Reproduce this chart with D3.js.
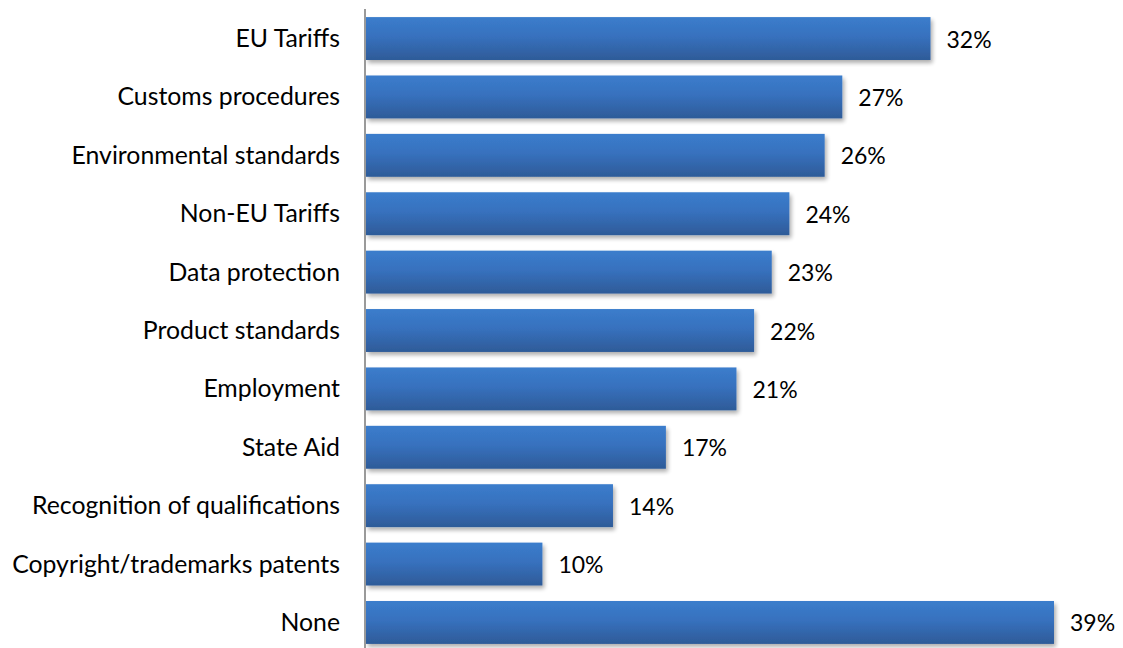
<!DOCTYPE html>
<html>
<head>
<meta charset="utf-8">
<script src="https://cdn.jsdelivr.net/npm/d3@7"></script>
<style>
  html, body { margin: 0; padding: 0; background: #fff; }
  svg { display: block; }
</style>
</head>
<body>
<svg id="chart" width="1123" height="648"></svg>
<script>
const categories = [
  "EU Tariffs",
  "Customs procedures",
  "Environmental standards",
  "Non-EU Tariffs",
  "Data protection",
  "Product standards",
  "Employment",
  "State Aid",
  "Recognition of qualifications",
  "Copyright/trademarks patents",
  "None"
];
const shares = [32, 27, 26, 24, 23, 22, 21, 17, 14, 10, 39];

const W = 1123, H = 648;
const svg = d3.select("#chart");
const fontFamily = "Lato, 'Open Sans', sans-serif";

const x = d3.scaleLinear().domain([0, 39]).range([366, 1054]);
const y = d3.scaleBand().domain(categories).range([9.5, 651.5]).paddingInner(0.265).paddingOuter(0.13);

const defs = svg.append("defs");
const grad = defs.append("linearGradient").attr("id", "barFill")
  .attr("x1", 0).attr("y1", 0).attr("x2", 0).attr("y2", 1);
grad.append("stop").attr("offset", "0%").attr("stop-color", "#3b7dcc");
grad.append("stop").attr("offset", "45%").attr("stop-color", "#3771be");
grad.append("stop").attr("offset", "100%").attr("stop-color", "#2e5b98");

const shadow = defs.append("filter").attr("id", "barShadow")
  .attr("x", "-5%").attr("y", "-20%").attr("width", "115%").attr("height", "160%");
shadow.append("feGaussianBlur").attr("in", "SourceAlpha").attr("stdDeviation", 2.2).attr("result", "blur");
shadow.append("feOffset").attr("in", "blur").attr("dx", 1.5).attr("dy", 3).attr("result", "off");
shadow.append("feComponentTransfer").attr("in", "off").attr("result", "soft")
  .append("feFuncA").attr("type", "linear").attr("slope", 0.32);
const merge = shadow.append("feMerge");
merge.append("feMergeNode").attr("in", "soft");
merge.append("feMergeNode").attr("in", "SourceGraphic");

// bars
svg.append("g").selectAll("rect")
  .data(categories)
  .join("rect")
  .attr("x", x(0))
  .attr("y", d => y(d))
  .attr("width", (d, i) => x(shares[i]) - x(0))
  .attr("height", y.bandwidth())
  .attr("fill", "url(#barFill)")
  .attr("filter", "url(#barShadow)");

// value axis baseline
svg.append("line")
  .attr("x1", 365).attr("x2", 365)
  .attr("y1", 9).attr("y2", H)
  .attr("stroke", "#9a9a9a").attr("stroke-width", 2);

// category labels
svg.append("g").selectAll("text")
  .data(categories)
  .join("text")
  .attr("x", 340)
  .attr("y", d => y(d) + y.bandwidth() / 2 + 8.5)
  .attr("text-anchor", "end")
  .attr("font-family", fontFamily)
  .attr("font-size", 24.8)
  .attr("fill", "#000")
  .text(d => d);

// value labels
svg.append("g").selectAll("text")
  .data(categories)
  .join("text")
  .attr("x", (d, i) => x(shares[i]) + 16)
  .attr("y", d => y(d) + y.bandwidth() / 2 + 9)
  .attr("font-family", fontFamily)
  .attr("font-size", 23)
  .attr("fill", "#000")
  .text((d, i) => shares[i] + "%");
</script>
</body>
</html>
